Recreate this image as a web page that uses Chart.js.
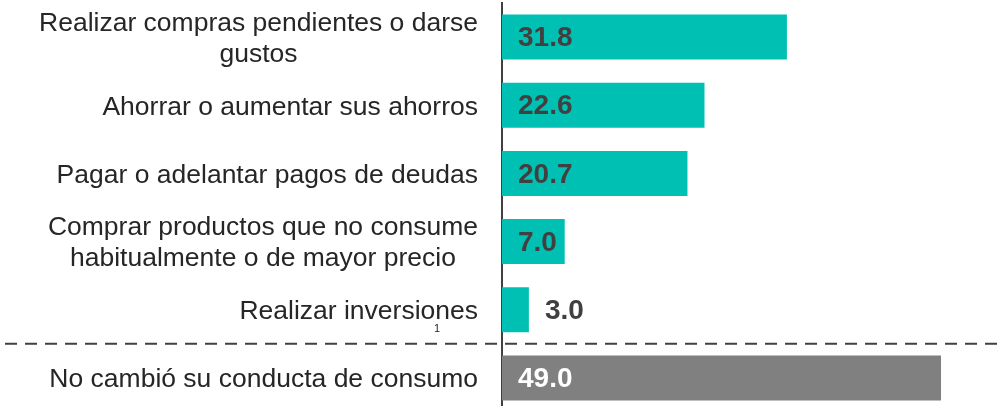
<!DOCTYPE html>
<html>
<head>
<meta charset="utf-8">
<script src="https://cdn.jsdelivr.net/npm/chart.js@4"></script>
<style>
  html, body { margin: 0; padding: 0; background: #fff; overflow: hidden; }
  #wrap { width: 998px; height: 412px; }
</style>
</head>
<body>
<div id="wrap"><canvas id="myChart" width="998" height="412"></canvas></div>
<script>
// categories (each entry = lines of the label)
const categories = [
  ["Realizar compras pendientes o darse", "gustos"],
  ["Ahorrar o aumentar sus ahorros"],
  ["Pagar o adelantar pagos de deudas"],
  ["Comprar productos que no consume", "habitualmente o de mayor precio"],
  ["Realizar inversiones"],
  ["No cambió su conducta de consumo"]
];
const values = [31.8, 22.6, 20.7, 7.0, 3.0, 49.0];
const barColors = ["#00c0b3", "#00c0b3", "#00c0b3", "#00c0b3", "#00c0b3", "#808080"];
const valueColors = ["#404040", "#404040", "#404040", "#404040", "#404040", "#ffffff"];

const FONT = "'Liberation Sans', Arial, sans-serif";

// draws labels, values, the dashed separator and the footnote
const annotatePlugin = {
  id: "annotate",
  afterDatasetsDraw(chart) {
    const ctx = chart.ctx;
    const yScale = chart.scales.y;
    const area = chart.chartArea;
    const meta = chart.getDatasetMeta(0);
    ctx.save();

    // category labels: block right aligned, lines centered inside it
    // (the source text is a little wider than plain Arial, so stretch it)
    const sx = 1.06;
    ctx.font = "25px " + FONT;
    ctx.fillStyle = "#262626";
    ctx.textBaseline = "middle";
    ctx.textAlign = "center";
    const rightEdge = area.left - 24;
    const lineH = 31;
    categories.forEach((lines, i) => {
      const y = yScale.getPixelForValue(i) + 2.5;
      let maxW = 0;
      lines.forEach((l) => { maxW = Math.max(maxW, ctx.measureText(l).width * sx); });
      const cx = rightEdge - maxW / 2;
      const y0 = y - (lines.length - 1) * lineH / 2;
      lines.forEach((l, j) => {
        ctx.save();
        ctx.translate(cx, y0 + j * lineH);
        ctx.scale(sx, 1);
        ctx.fillText(l, 0, 0);
        ctx.restore();
      });
    });

    // footnote mark under "inversiones"
    ctx.font = "11px " + FONT;
    ctx.fillStyle = "#262626";
    ctx.fillText("1", 437, yScale.getPixelForValue(4) + 19);

    // value labels
    ctx.font = "bold 28px " + FONT;
    ctx.textAlign = "left";
    meta.data.forEach((bar, i) => {
      const w = bar.x - bar.base;
      const x = w > 60 ? bar.base + 16 : bar.x + 16;
      ctx.fillStyle = w > 60 ? valueColors[i] : "#404040";
      ctx.fillText(values[i].toFixed(1), x, bar.y + 1.5);
    });

    // dashed separator between the groups
    const ySep = (yScale.getPixelForValue(4) + yScale.getPixelForValue(5)) / 2;
    ctx.strokeStyle = "#404040";
    ctx.lineWidth = 2;
    ctx.setLineDash([12, 8]);
    ctx.beginPath();
    ctx.moveTo(5, ySep);
    ctx.lineTo(chart.width, ySep);
    ctx.stroke();
    ctx.restore();
  }
};

const ctx = document.getElementById("myChart").getContext("2d");
const chart = new Chart(ctx, {
  type: "bar",
  data: {
    labels: categories,
    datasets: [
      {
        data: values,
        backgroundColor: barColors,
        borderWidth: 0,
        categoryPercentage: 1,
        barPercentage: 0.66
      }
    ]
  },
  options: {
    indexAxis: "y",
    responsive: false,
    animation: false,
    layout: { padding: { top: 3, left: 0, right: 0, bottom: 0 } },
    plugins: {
      legend: { display: false },
      tooltip: { enabled: false }
    },
    scales: {
      x: {
        display: false,
        min: 0,
        max: 55.36
      },
      y: {
        ticks: { display: false },
        grid: { display: false },
        border: { display: true, color: "#404040", width: 2 },
        afterFit(scale) {
          scale.width = 502;
        }
      }
    }
  },
  plugins: [annotatePlugin]
});
</script>
</body>
</html>
